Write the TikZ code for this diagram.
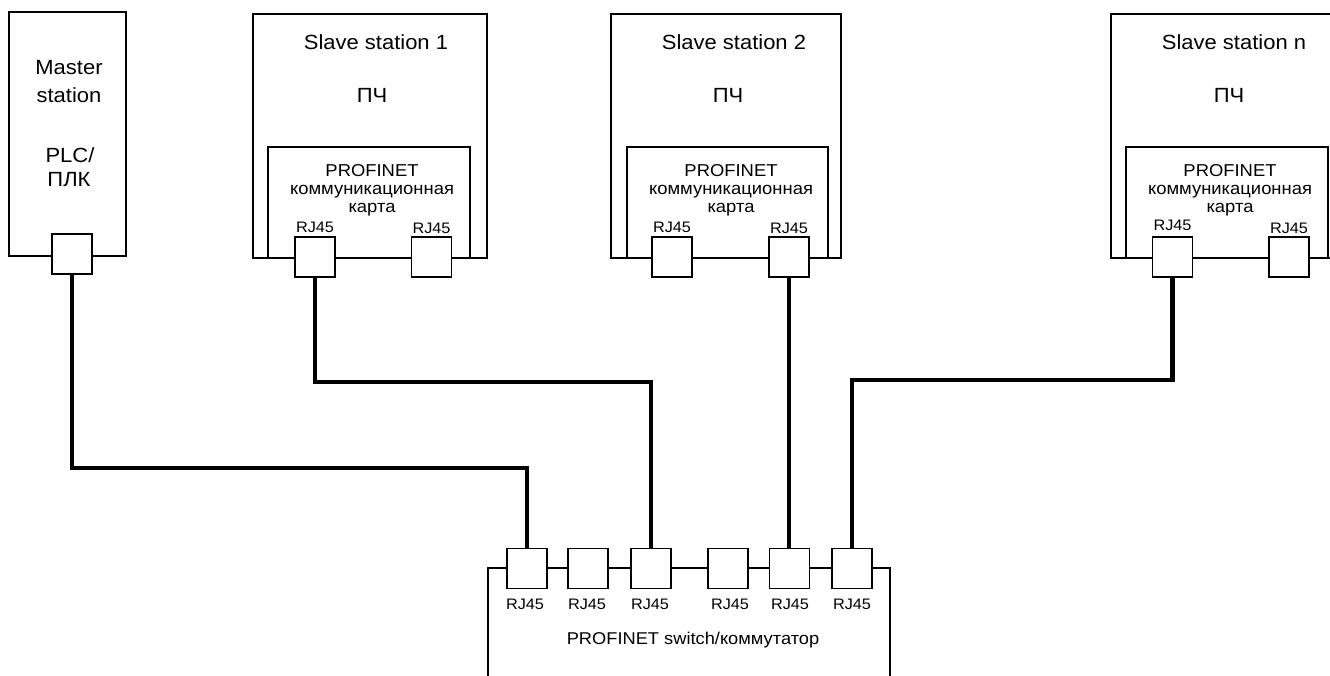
\documentclass[tikz,border=0pt]{standalone}
\usepackage{fontspec}
\setmainfont{Liberation Sans}[FakeStretch=1.07]
\usetikzlibrary{fit}
\tikzset{
  frame/.style={draw, line width=1pt, inner sep=0pt},
  port/.style={draw, fill=white, line width=1pt, inner sep=0pt, minimum width=30pt, minimum height=30pt},
  cable/.style={line width=3.3pt},
  title/.style={inner sep=0pt, font=\fontsize{15.4}{18}\selectfont},
  cardtxt/.style={inner sep=0pt, align=center, font=\fontsize{12.9}{13.5}\selectfont},
  rj/.style={inner sep=0pt, font=\fontsize{11.4}{13}\selectfont},
  swtxt/.style={inner sep=0pt, font=\fontsize{12.8}{15}\selectfont}
}
\begin{document}
\begin{tikzpicture}[x=0.75pt,y=-0.75pt]
\path[use as bounding box] (0,0) rectangle (1330,675);
\clip (0,0) rectangle (1330,675);

% boxes
\node[frame, fit={(9,12) (126,256)}] (master) {};
\node[frame, fit={(253,14) (487,258)}] (sl1) {};
\node[frame, fit={(268,147) (470,258)}] (card1) {};
\node[frame, fit={(611,14) (841,258)}] (sl2) {};
\node[frame, fit={(627,147) (828,258)}] (card2) {};
\node[frame, fit={(1111,14) (1360,258)}] (sln) {};
\node[frame, fit={(1126,147) (1328,258)}] (cardn) {};
\node[frame, fit={(488,568) (890,700)}] (sw) {};

% texts
\node[title] (mt1) at (69,68) {Master};
\node[title] (mt2) at (69,95) {station};
\node[title] (mt3) at (70,155) {PLC/};
\node[title] (mt4) at (69,180) {ПЛК};
\node[title] (t1) at (376,42) {Slave station 1};
\node[title] (p1) at (372,95) {ПЧ};
\node[title] (t2) at (734,42) {Slave station 2};
\node[title] (p2) at (728,95) {ПЧ};
\node[title] (tn) at (1234,42) {Slave station n};
\node[title] (pn) at (1229,95) {ПЧ};
\node[cardtxt] (ct1) at (372,190) {PROFINET\\коммуникационная\\карта};
\node[cardtxt] (ct2) at (731,190) {PROFINET\\коммуникационная\\карта};
\node[cardtxt] (ctn) at (1230,190) {PROFINET\\коммуникационная\\карта};
\node[swtxt] (swt) at (693,640) {PROFINET switch/коммутатор};

% ports
\node[port] (m1) at (72,254) {};
\node[port] (a1) at (315,257) {};
\node[port] (a2) at (431.5,257) {};
\node[port] (b1) at (672,257) {};
\node[port] (b2) at (789,257) {};
\node[port] (n1) at (1172.5,257) {};
\node[port] (n2) at (1289,257) {};
\node[port] (s1) at (527,568.5) {};
\node[port] (s2) at (588,568.5) {};
\node[port] (s3) at (651,568.5) {};
\node[port] (s4) at (728,568.5) {};
\node[port] (s5) at (789.5,568.5) {};
\node[port] (s6) at (852,568.5) {};

% cables
\draw[cable] (m1.south) -- (m1.south |- 0,468) -- (s1.north |- 0,468) -- (s1.north);
\draw[cable] (a1.south) -- (a1.south |- 0,382) -- (s3.north |- 0,382) -- (s3.north);
\draw[cable] (b2.south) -- (b2.south |- s5.north);
\draw[cable] (n1.south) -- (n1.south |- 0,380) -- (s6.north |- 0,380) -- (s6.north);

% RJ45 labels
\node[rj] (la1) at (315,227) {RJ45};
\node[rj] (la2) at (431.5,228) {RJ45};
\node[rj] (lb1) at (672,227) {RJ45};
\node[rj] (lb2) at (789,228) {RJ45};
\node[rj] (ln1) at (1172.5,225) {RJ45};
\node[rj] (ln2) at (1289,228) {RJ45};
\node[rj] (ls1) at (525,604) {RJ45};
\node[rj] (ls2) at (587,604) {RJ45};
\node[rj] (ls3) at (650,604) {RJ45};
\node[rj] (ls4) at (730,604) {RJ45};
\node[rj] (ls5) at (790,604) {RJ45};
\node[rj] (ls6) at (852,604) {RJ45};
\end{tikzpicture}
\end{document}
